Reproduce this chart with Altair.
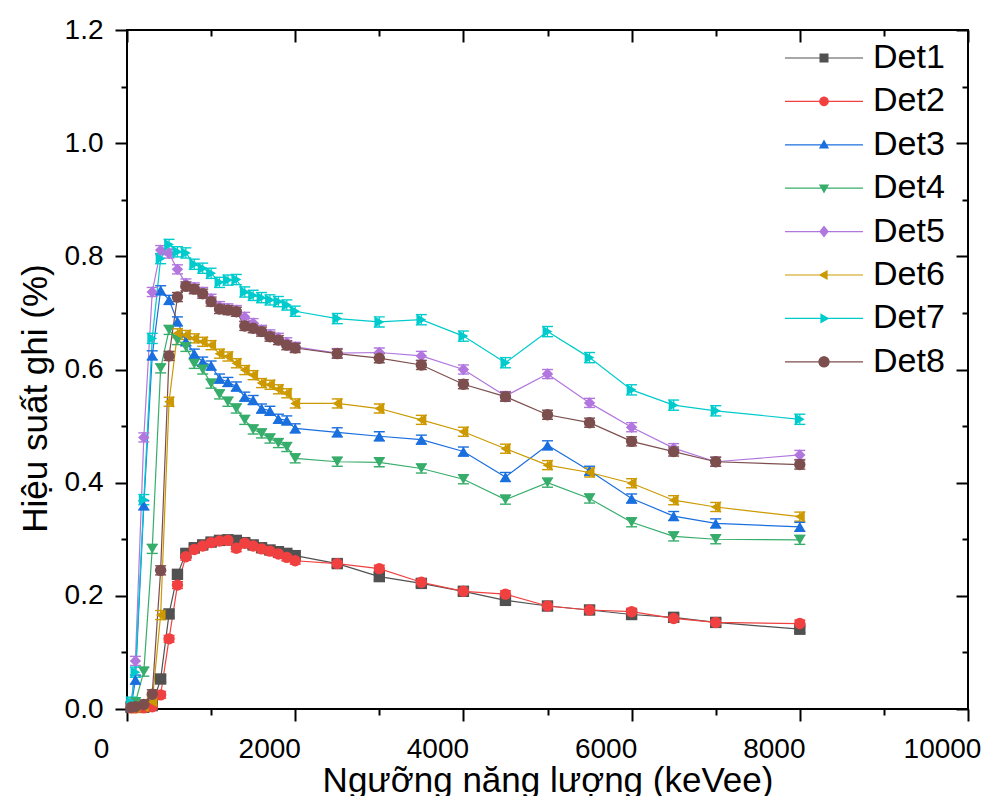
import math
import altair as alt
import pandas as pd

# ---------------- data ----------------
energy = [50, 100, 200, 300, 400, 500, 600, 700, 800, 900, 1000, 1100, 1200, 1300,
          1400, 1500, 1600, 1700, 1800, 1900, 2000, 2500, 3000, 3500, 4000, 4500,
          5000, 5500, 6000, 6500, 7000, 8000]

det1 = [0.003, 0.003, 0.003, 0.006, 0.053, 0.168, 0.238, 0.275, 0.285, 0.290, 0.295,
        0.298, 0.299, 0.298, 0.294, 0.290, 0.285, 0.281, 0.278, 0.275, 0.271, 0.257,
        0.234, 0.222, 0.208, 0.192, 0.182, 0.175, 0.167, 0.162, 0.153, 0.141]
det2 = [0.002, 0.002, 0.002, 0.004, 0.025, 0.124, 0.219, 0.269, 0.282, 0.288, 0.294,
        0.297, 0.298, 0.284, 0.293, 0.288, 0.283, 0.279, 0.274, 0.268, 0.262, 0.257,
        0.248, 0.224, 0.208, 0.203, 0.182, 0.175, 0.172, 0.160, 0.153, 0.151]
det3 = [0.005, 0.052, 0.360, 0.625, 0.740, 0.723, 0.685, 0.650, 0.628, 0.614, 0.607,
        0.584, 0.578, 0.570, 0.552, 0.546, 0.531, 0.527, 0.513, 0.510, 0.496, 0.489,
        0.482, 0.476, 0.455, 0.410, 0.466, 0.421, 0.372, 0.341, 0.328, 0.322]
det4 = [0.004, 0.012, 0.066, 0.283, 0.602, 0.670, 0.652, 0.640, 0.610, 0.600, 0.575,
        0.556, 0.543, 0.531, 0.511, 0.494, 0.487, 0.478, 0.470, 0.463, 0.443, 0.437,
        0.436, 0.425, 0.406, 0.370, 0.400, 0.372, 0.330, 0.305, 0.300, 0.299]
det5 = [0.008, 0.085, 0.480, 0.737, 0.811, 0.805, 0.777, 0.752, 0.745, 0.737, 0.725,
        0.712, 0.708, 0.705, 0.693, 0.682, 0.670, 0.662, 0.656, 0.648, 0.640, 0.629,
        0.630, 0.624, 0.600, 0.553, 0.592, 0.541, 0.498, 0.461, 0.437, 0.449]
det6 = [0.002, 0.002, 0.004, 0.013, 0.166, 0.543, 0.664, 0.661, 0.655, 0.649, 0.643,
        0.628, 0.623, 0.611, 0.599, 0.590, 0.576, 0.573, 0.565, 0.558, 0.540, 0.540,
        0.531, 0.511, 0.490, 0.460, 0.431, 0.418, 0.399, 0.369, 0.357, 0.340]
det7 = [0.012, 0.065, 0.370, 0.655, 0.796, 0.821, 0.808, 0.806, 0.786, 0.779, 0.770,
        0.754, 0.758, 0.759, 0.737, 0.731, 0.727, 0.723, 0.720, 0.714, 0.703, 0.690,
        0.684, 0.688, 0.659, 0.612, 0.667, 0.621, 0.564, 0.537, 0.527, 0.512]
det8 = [0.003, 0.004, 0.008, 0.026, 0.245, 0.624, 0.728, 0.747, 0.742, 0.734, 0.720,
        0.707, 0.705, 0.702, 0.677, 0.673, 0.667, 0.658, 0.652, 0.643, 0.638, 0.628,
        0.620, 0.608, 0.574, 0.552, 0.520, 0.506, 0.473, 0.455, 0.437, 0.432]

detectors = ["Det1", "Det2", "Det3", "Det4", "Det5", "Det6", "Det7", "Det8"]
series = [det1, det2, det3, det4, det5, det6, det7, det8]
errors = [0.006, 0.006, 0.008, 0.008, 0.008, 0.008, 0.009, 0.008]

x_major = [0, 2000, 4000, 6000, 8000, 10000]
x_minor = [1000, 3000, 5000, 7000, 9000]
y_major = [0.0, 0.2, 0.4, 0.6, 0.8, 1.0, 1.2]
y_minor = [0.1, 0.3, 0.5, 0.7, 0.9, 1.1]

# ---------------- styles ----------------
colors = ["#515151", "#F14040", "#1A6FDF", "#37AD6B", "#B177DE", "#CC9900", "#00CBCC", "#7D4E4E"]
shapes = ["square", "circle", "triangle-up", "triangle-down", "diamond",
          "triangle-left", "triangle-right", "circle"]
FONT = "Liberation Sans"


def poly_circle(r, n=20):
    pts = [(r * math.cos(2 * math.pi * k / n), r * math.sin(2 * math.pi * k / n)) for k in range(n)]
    return "M" + "L".join(f"{x:.3f},{y:.3f}" for x, y in pts) + "Z"


seg = "M-13,-0.2H13V0.2H-13Z"
legend_paths = [
    seg + "M-1.5,-1.5H1.5V1.5H-1.5Z",
    seg + poly_circle(1.6),
    seg + "M0,-1.8L1.7,1.2L-1.7,1.2Z",
    seg + "M-1.7,-1.2L1.7,-1.2L0,1.8Z",
    seg + "M0,-2L1.6,0L0,2L-1.6,0Z",
    seg + "M-1.8,0L1.2,-1.7L1.2,1.7Z",
    seg + "M1.8,0L-1.2,1.7L-1.2,-1.7Z",
    seg + poly_circle(1.9),
]

rows = []
for name, vals, err in zip(detectors, series, errors):
    for e, v in zip(energy, vals):
        rows.append({"E": e, "Eff": v, "Det": name, "lo": v - err, "hi": v + err})
df = pd.DataFrame(rows)
caps = pd.concat([df.assign(yc=df["lo"]), df.assign(yc=df["hi"])], ignore_index=True)

X = alt.Scale(domain=[0, 10000], nice=False, zero=False)
Y = alt.Scale(domain=[0, 1.2], nice=False, zero=False)
col_scale = alt.Scale(domain=detectors, range=colors)

common = dict(grid=False, domain=False, tickColor="black", tickWidth=2)
nolab = dict(labels=False, title=None)

ax_x_bottom = alt.Axis(orient="bottom", values=x_major, tickSize=12, format="d",
                       labelFont=FONT, labelFontSize=28, labelColor="black", labelPadding=14,
                       labelOffset=-26, labelFlush=False, labelOverlap=False,
                       title="Ngưỡng năng lượng (keVee)", titleFont=FONT, titleFontSize=35,
                       titleFontWeight="normal", titleColor="black", titleY=82,
                       titleBaseline="alphabetic", **common)
ax_y_left = alt.Axis(orient="left", values=y_major, tickSize=12, format=".1f",
                     labelFont=FONT, labelFontSize=28, labelColor="black", labelPadding=12,
                     labelFlush=False, labelOverlap=False,
                     title="Hiệu suất ghi (%)", titleFont=FONT, titleFontSize=35,
                     titleFontWeight="normal", titleColor="black", titleAngle=270,
                     titleX=-92, titleY=368, titleBaseline="middle", **common)
ax_x_bottom_minor = alt.Axis(orient="bottom", values=x_minor, tickSize=6, **nolab, **common)
ax_y_left_minor = alt.Axis(orient="left", values=y_minor, tickSize=6, **nolab, **common)
ax_x_top = alt.Axis(orient="top", values=x_major, tickSize=12, offset=-12, **nolab, **common)
ax_y_right = alt.Axis(orient="right", values=y_major, tickSize=12, offset=-12, **nolab, **common)
ax_x_top_minor = alt.Axis(orient="top", values=x_minor, tickSize=6, offset=-6, **nolab, **common)
ax_y_right_minor = alt.Axis(orient="right", values=y_minor, tickSize=6, offset=-6, **nolab, **common)

base = alt.Chart(df)

lines = base.mark_line(strokeWidth=1.2).encode(
    x=alt.X("E:Q", scale=X, axis=ax_x_bottom),
    y=alt.Y("Eff:Q", scale=Y, axis=ax_y_left),
    color=alt.Color("Det:N", scale=col_scale, legend=None),
    detail="Det:N",
)

bars = base.mark_rule(strokeWidth=1.2).encode(
    x=alt.X("E:Q", scale=X, axis=ax_x_bottom_minor),
    y=alt.Y("lo:Q", scale=Y, axis=ax_y_left_minor),
    y2="hi:Q",
    color=alt.Color("Det:N", scale=col_scale, legend=None),
)

capmarks = alt.Chart(caps).mark_tick(orient="horizontal", size=11, thickness=1.4, opacity=1).encode(
    x=alt.X("E:Q", scale=X, axis=ax_x_top),
    y=alt.Y("yc:Q", scale=Y, axis=ax_y_right),
    color=alt.Color("Det:N", scale=col_scale, legend=None),
)

points = base.mark_point(filled=True, opacity=1, size=130).encode(
    x=alt.X("E:Q", scale=X, axis=ax_x_top_minor),
    y=alt.Y("Eff:Q", scale=Y, axis=ax_y_right_minor),
    color=alt.Color("Det:N", scale=col_scale, legend=None),
    shape=alt.Shape("Det:N", scale=alt.Scale(domain=detectors, range=shapes), legend=None),
)

leg_kw = dict(orient="none", legendX=680, legendY=11, title=None, padding=0,
              labelFont=FONT, labelFontSize=34, labelColor="black", labelOffset=32,
              symbolSize=36, symbolStrokeWidth=0, symbolOpacity=1, rowPadding=9.4,
              labelLimit=300)

legend_layer = base.transform_filter("false").mark_point(filled=True, opacity=1).encode(
    x=alt.X("E:Q", scale=X, axis=None),
    y=alt.Y("Eff:Q", scale=Y, axis=None),
    color=alt.Color("Det:N", scale=col_scale, legend=alt.Legend(**leg_kw)),
    shape=alt.Shape("Det:N", scale=alt.Scale(domain=detectors, range=legend_paths),
                    legend=alt.Legend(**leg_kw)),
)

chart = alt.layer(lines, bars, capmarks, points, legend_layer).resolve_axis(
    x="independent", y="independent"
).resolve_scale(
    color="independent", shape="independent"
).properties(
    width=841, height=679,
    padding={"left": 127, "top": 30, "right": 18, "bottom": 87},
    autosize=alt.AutoSizeParams(type="none"),
    background="white",
).configure_view(
    stroke="black", strokeWidth=2
)

chart.save("out.html", embed_options={"renderer": "svg", "actions": False})
